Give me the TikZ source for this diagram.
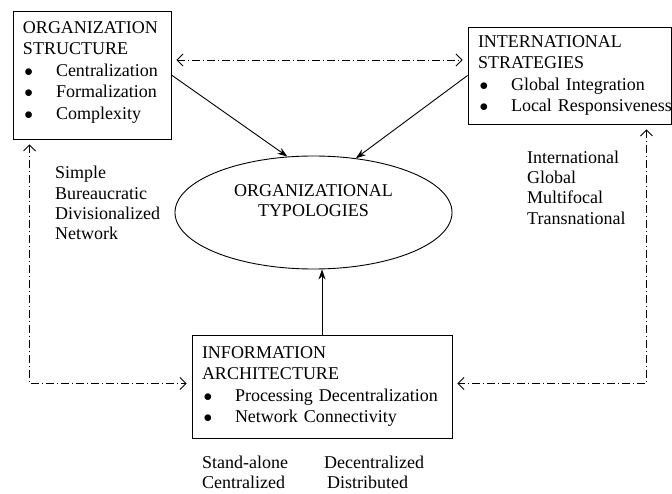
\documentclass[tikz,border=0pt]{standalone}
\usepackage{fontspec}
\setmainfont{Liberation Serif}
\usetikzlibrary{positioning,shapes.geometric,arrows.meta}
\newcommand{\bul}[1]{\mbox{\hspace*{1.5pt}\makebox[31.5pt][l]{$\bullet$}#1}}
\tikzstyle{factorbox} = [rectangle, draw=black, line width=0.9pt, align=left, inner xsep=10pt, inner ysep=0pt, font=\fontsize{18}{21.5}\selectfont]
\tikzstyle{typology} = [ellipse, draw=black, line width=0.9pt, minimum width=277pt, minimum height=113pt, inner sep=0pt, align=center, font=\fontsize{18}{20}\selectfont]
\tikzstyle{typelist} = [align=left, inner sep=0pt, anchor=west, font=\fontsize{18}{20.3}\selectfont]
\tikzstyle{arrow} = [line width=0.9pt, -{Stealth[length=10pt,width=7pt]}]
\tikzstyle{linkarrow} = [line width=0.8pt, dash pattern=on 8pt off 3pt on 1pt off 3pt, {Straight Barb[length=6pt,width=12pt]}-{Straight Barb[length=6pt,width=12pt]}, shorten <=5pt, shorten >=5pt]
\begin{document}
\begin{tikzpicture}[node distance=174pt, x=1pt, y=1pt]
\useasboundingbox (0,0) rectangle (672,493);
%
\node (typo) [typology] at (313.5,280.5) {ORGANIZATIONAL\\TYPOLOGIES\\[4pt]\mbox{}};
%
\node (org) [factorbox, text width=138pt, minimum height=128pt, left of=typo, xshift=-47.5pt, yshift=137.5pt] {ORGANIZATION\\STRUCTURE\\ \bul{Centralization}\\ \bul{Formalization}\\ \bul{Complexity}\\[-12pt]\mbox{}};
\node (intl) [factorbox, text width=183pt, minimum height=97pt, right of=typo, xshift=82pt, yshift=137pt] {INTERNATIONAL\\STRATEGIES\\ \bul{Global Integration}\\ \bul{Local Responsiveness}};
\node (info) [factorbox, text width=240pt, minimum height=103pt, below of=typo, xshift=8.5pt] {INFORMATION\\ARCHITECTURE\\ \bul{Processing Decentralization}\\ \bul{Network Connectivity}};
%
\node (orgtypes) [typelist] at (55,290) {Simple\\Bureaucratic\\Divisionalized\\Network};
\node (strattypes) [typelist] at (527,305.5) {International\\Global\\Multifocal\\Transnational};
\node (archcentral) [typelist] at (202,20.5) {Stand-alone\\Centralized};
\node (archdistrib) [typelist] at (324,20.5) {Decentralized\\\hspace*{3pt}Distributed};
%
\draw [arrow] (org.east) -- (typo.115);
\draw [arrow] (intl.west) -- (typo.52);
\draw [arrow] (info.north) -- (info.north |- typo.south);
%
\draw [linkarrow] ([yshift=15pt]org.east) -- ([yshift=15pt]org.east -| intl.west);
\draw [linkarrow] ([xshift=17pt]org.south west) |- ([yshift=3pt]info.west);
\draw [linkarrow] ([xshift=-25pt]intl.south east) |- ([yshift=3pt]info.east);
%
\end{tikzpicture}
\end{document}
